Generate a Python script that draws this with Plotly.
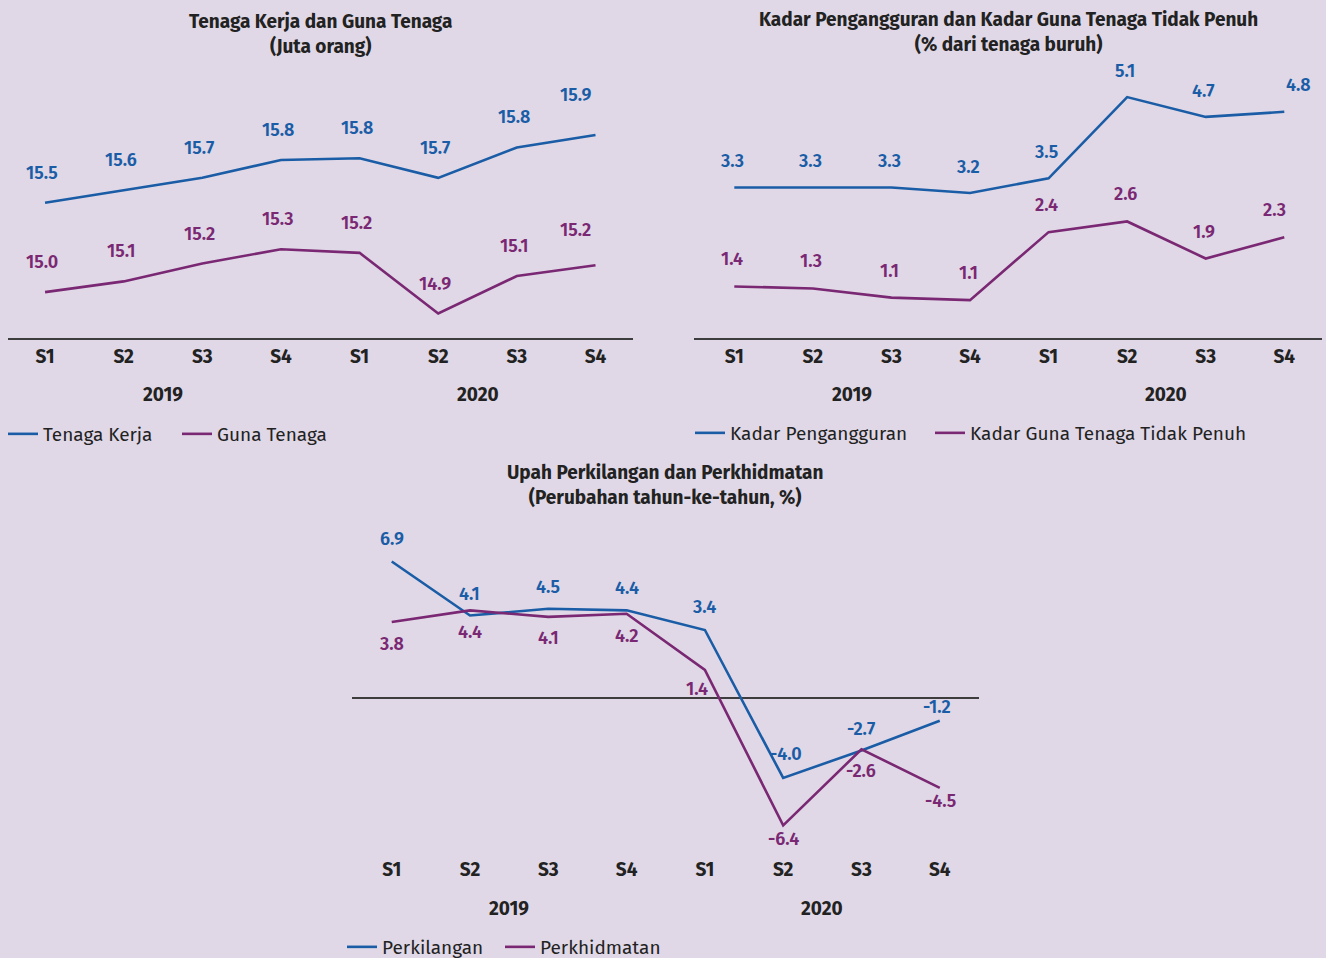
import plotly.graph_objects as go

W, H = 1326, 958
BG = "#e0d8e6"
BLUE, PURPLE, INK, AXIS = "#1a5da6", "#7a2873", "#222222", "#3d3d3d"
FONT = "Fira Sans, Open Sans, Noto Sans, sans-serif"

# data
quarters = ["S1", "S2", "S3", "S4", "S1", "S2", "S3", "S4"]
years = ["2019"] * 4 + ["2020"] * 4

tenaga_kerja = [15.52, 15.59, 15.66, 15.76, 15.77, 15.66, 15.83, 15.90]
guna_tenaga = [15.02, 15.08, 15.18, 15.26, 15.24, 14.90, 15.11, 15.17]

kadar_pengangguran = [3.31, 3.31, 3.31, 3.20, 3.49, 5.09, 4.70, 4.80]
kadar_tidak_penuh = [1.36, 1.32, 1.14, 1.09, 2.43, 2.64, 1.91, 2.33]

perkilangan = [6.86, 4.14, 4.48, 4.40, 3.41, -4.04, -2.66, -1.16]
perkhidmatan = [3.81, 4.40, 4.07, 4.23, 1.40, -6.43, -2.60, -4.54]

idx = list(range(len(quarters)))


def px(x):
    return x / W


def py(y):
    return 1 - y / H


fig = go.Figure()

# label nudges in pixels (dx, dy), one per point; "entry" = legend slot width of first item
panels = [
    dict(ax="", legend="legend", entry=129, title_y=34,
         title="Tenaga Kerja dan Guna Tenaga<br>(Juta orang)",
         series=[("Tenaga Kerja", tenaga_kerja, BLUE, [(-3, 30)] * 7 + [(-20, 40)]),
                 ("Guna Tenaga", guna_tenaga, PURPLE, [(-3, 30)] * 7 + [(-20, 35)])]),
    dict(ax="2", legend="legend2", entry=195, title_y=32,
         title="Kadar Pengangguran dan Kadar Guna Tenaga Tidak Penuh<br>(% dari tenaga buruh)",
         series=[("Kadar Pengangguran", kadar_pengangguran, BLUE, [(-2, 26)] * 7 + [(14, 27)]),
                 ("Kadar Guna Tenaga Tidak Penuh", kadar_tidak_penuh, PURPLE, [(-2, 27)] * 7 + [(-10, 27)])]),
    dict(ax="3", legend="legend3", entry=113, title_y=485,
         title="Upah Perkilangan dan Perkhidmatan<br>(Perubahan tahun-ke-tahun, %)",
         series=[("Perkilangan", perkilangan, BLUE,
                  [(0, 23), (-1, 22), (0, 22), (0, 22), (0, 23), (3, 24), (0, 22), (-3, 14)]),
                 ("Perkhidmatan", perkhidmatan, PURPLE,
                  [(0, -22), (0, -22), (0, -21), (0, -22), (-8, -19), (0, -14), (0, -22), (1, -13)])]),
]

for p in panels:
    xa, ya = "x" + p["ax"], "y" + p["ax"]
    for k, (name, vals, col, nudges) in enumerate(p["series"]):
        fig.add_trace(go.Scatter(x=idx, y=vals, name=name, mode="lines", xaxis=xa, yaxis=ya,
                                 line=dict(color=col, width=2.6), legend=p["legend"],
                                 legendwidth=p["entry"] if k == 0 else None,
                                 hovertemplate="%{y:.1f}<extra>" + name + "</extra>"))
        for i, v in enumerate(vals):
            dx, dy = nudges[i]
            fig.add_annotation(x=i, y=v, xref=xa, yref=ya, text=f"{v:.1f}", showarrow=False,
                               xshift=dx, yshift=dy, font=dict(size=18, color=col, weight=600))
    # year group labels, centred under each year's quarters
    for yr in dict.fromkeys(years):
        pos = [i for i in idx if years[i] == yr]
        fig.add_annotation(x=sum(pos) / len(pos), y=0, xref=xa, yref=ya + " domain", yshift=-56,
                           yanchor="middle", text=f"<b>{yr}</b>", showarrow=False,
                           font=dict(size=19, color=INK))
    # panel title, centred over its plot area
    fig.add_annotation(x=0.5, y=py(p["title_y"]), xref=xa + " domain", yref="paper",
                       text=f"<b>{p['title']}</b>", showarrow=False, xanchor="center",
                       yanchor="middle", align="center", font=dict(size=19, color=INK))

axis_common = dict(tickvals=idx, ticktext=[f"<b>{q}</b>" for q in quarters], ticks="",
                   tickfont=dict(size=19, color=INK), showgrid=False, zeroline=False,
                   ticklabelstandoff=0, fixedrange=True)
yaxis_common = dict(showticklabels=False, showgrid=False, fixedrange=True)

fig.update_layout(
    xaxis=dict(axis_common, domain=[px(7.6), px(633.4)], range=[-0.476, 7.482], anchor="y",
               showline=True, linecolor=AXIS, linewidth=2),
    yaxis=dict(yaxis_common, domain=[py(338), py(60)], range=[14.763, 16.32], anchor="x", zeroline=False),
    xaxis2=dict(axis_common, domain=[px(694), px(1322)], range=[-0.513, 7.48], anchor="y2",
                showline=True, linecolor=AXIS, linewidth=2),
    yaxis2=dict(yaxis_common, domain=[py(338), py(60)], range=[0.344, 5.821], anchor="x2", zeroline=False),
    xaxis3=dict(axis_common, domain=[px(351.8), px(978.9)], range=[-0.51, 7.5], anchor="y3",
                showline=False, ticklabelstandoff=4),
    yaxis3=dict(yaxis_common, domain=[py(852), py(520)], range=[-7.773, 8.952], anchor="x3",
                zeroline=True, zerolinecolor=AXIS, zerolinewidth=1.6),
)

leg = dict(orientation="h", bgcolor="rgba(0,0,0,0)", font=dict(size=19, color=INK),
           xanchor="left", yanchor="middle", itemclick=False, itemdoubleclick=False)
fig.update_layout(
    legend=dict(leg, x=px(3), y=py(434)),
    legend2=dict(leg, x=px(690), y=py(433)),
    legend3=dict(leg, x=px(342), y=py(947)),
    showlegend=True,
    width=W, height=H,
    # the bottom legend sits on the page edge: don't let it shrink the plots
    margin=dict(l=0, r=0, t=0, b=0, autoexpand=False),
    paper_bgcolor=BG, plot_bgcolor=BG,
    font=dict(family=FONT, color=INK),
    hovermode="closest",
)

fig.write_html("out.html", config={"displayModeBar": False},
               post_script="document.body.style.margin='0';"
                           "document.documentElement.style.overflow='hidden';")
